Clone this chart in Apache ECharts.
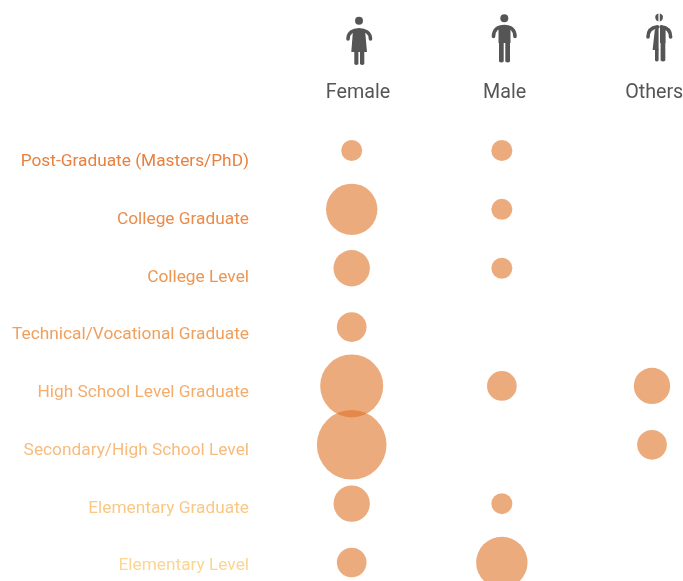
<!DOCTYPE html>
<html><head><meta charset="utf-8">
<style>html,body{margin:0;padding:0;background:#fff}#c{width:683px;height:581px}</style>
<script src="https://cdn.jsdelivr.net/npm/echarts@6/dist/echarts.min.js"></script>
</head><body><div id="c"></div>
<script>
const levels=['Post-Graduate (Masters/PhD)','College Graduate','College Level','Technical/Vocational Graduate','High School Level Graduate','Secondary/High School Level','Elementary Graduate','Elementary Level'];
const levelColors=['#e8813f','#ea8c4c','#ec9652','#efa05f','#f3ad6c','#f7bb7c','#fac885','#fcd590'];
const sexes=['Female','Male','Others'];
const female=[1,6,3,2,9,11,3,2];
const male=[1,1,1,0,2,0,1,6];
const others=[0,0,0,0,3,2,0,0];
const headerShift=[6.3,2.7,2.2];
const grey='#555555';
const font='Roboto';

const points=(vals,i)=>vals.map((v,j)=>[i,j,v]).filter(p=>p[2]>0);
const bubble=(name,vals,i)=>({
  name,type:'scatter',xAxisIndex:0,yAxisIndex:0,clip:false,silent:true,
  data:points(vals,i),
  symbolSize:d=>21*Math.sqrt(d[2]),
  itemStyle:{color:'#df7326',opacity:0.6}
});
let shapeCount=0;
const reg=d=>{const name='iconPath'+(shapeCount++);echarts.graphic.registerShape(name,echarts.graphic.extendPath(d,{}));return name;};
const icon=(d)=>({type:reg(d),silent:true,style:{fill:grey}});
const arm=(d)=>({type:reg(d),silent:true,style:{fill:'none',stroke:grey,lineWidth:3.6,lineCap:'round'}});
const head=(x,y)=>({type:'circle',silent:true,shape:{cx:x,cy:y,r:4},style:{fill:grey}});

const chart=echarts.init(document.getElementById('c'),null,{renderer:'canvas'});
chart.setOption({
  animation:false,
  backgroundColor:'#fff',
  grid:[
    {left:351.7,right:31,top:150.5,bottom:18.5,outerBoundsMode:'none'},
    {left:257,right:426,top:162,bottom:15,outerBoundsMode:'none'}
  ],
  xAxis:[
    {type:'category',gridIndex:0,position:'top',boundaryGap:false,
     data:sexes.map((s,i)=>({value:s,textStyle:{padding:[0,0,0,headerShift[i]*2]}})),
     axisLine:{show:false},axisTick:{show:false},splitLine:{show:false},
     axisLabel:{interval:0,hideOverlap:false,color:grey,fontFamily:font,fontSize:19.7,margin:47.5,showMinLabel:true,showMaxLabel:true}},
    {type:'value',gridIndex:1,show:false}
  ],
  yAxis:[
    {type:'category',gridIndex:0,inverse:true,boundaryGap:false,data:levels,show:false},
    {type:'category',gridIndex:1,inverse:true,boundaryGap:false,
     data:levels.map((l,i)=>({value:l,textStyle:{color:levelColors[i]}})),
     axisLine:{show:false},axisTick:{show:false},splitLine:{show:false},
     axisLabel:{interval:0,hideOverlap:false,fontFamily:font,fontSize:17.3,margin:8,align:'right',showMinLabel:true,showMaxLabel:true}}
  ],
  series:[bubble(sexes[0],female,0),bubble(sexes[1],male,1),bubble(sexes[2],others,2)],
  graphic:[
    head(359,20.7),
    icon('M353 30 L365 30 L367 52 L351.3 52 Z'),
    arm('M348 39 C348 32.5 353 29.7 359 29.7 C365 29.7 370.5 32.5 370.5 39'),
    icon('M354.3 50 L358.4 50 L358.4 64 Q356.3 66 354.3 64 Z M360 50 L364.3 50 L364.3 64 Q362.2 66 360 64 Z'),
    head(504.3,18.3),
    icon('M498.5 27 L510.5 27 L510.5 43 L498.5 43 Z'),
    arm('M493.5 36.5 C493.5 29.5 498 26.5 504.3 26.5 C510.5 26.5 515 29.5 515 36.5'),
    icon('M499 42 L503.7 42 L503.7 61.5 Q501.4 63.7 499 61.5 Z M505.3 42 L510 42 L510 61.5 Q507.7 63.7 505.3 61.5 Z'),
    icon('M658.4 13.6 A4 4 0 0 0 658.4 21.4 Z M659.8 13.6 A4 4 0 0 1 659.8 21.4 Z'),
    icon('M658.6 26 L658.6 50 L652.6 50 L654.8 30 Z M660 26 L665.6 28 L665.6 43 L660 43 Z'),
    arm('M648 37 C648 30.5 652 27.5 657.4 26.8 M670.6 37 C670.6 30.5 666.5 27.5 661.2 26.8'),
    icon('M655 49 L658.6 49 L658.6 60.5 Q656.8 62.7 655 60.5 Z M660.6 42 L665.3 42 L665.3 60.5 Q663 62.7 660.6 60.5 Z')
  ]
});
</script></body></html>
